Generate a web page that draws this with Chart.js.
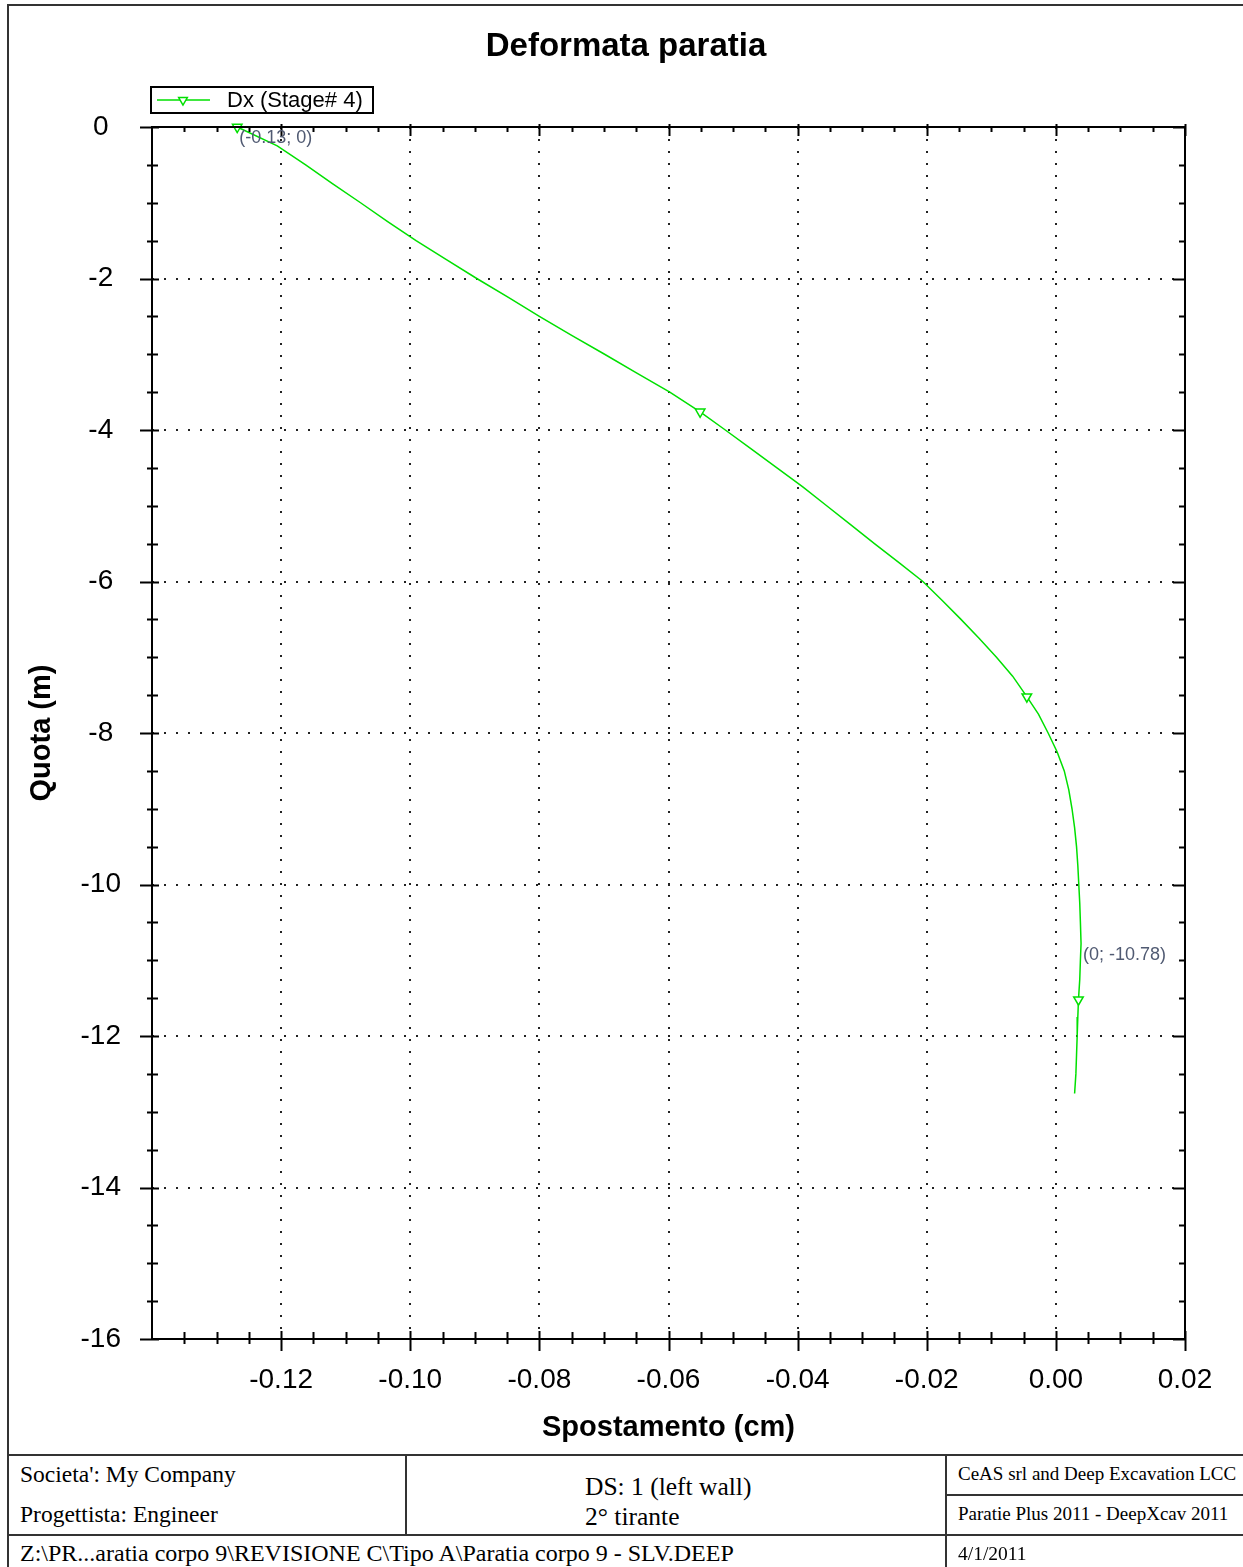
<!DOCTYPE html>
<html>
<head>
<meta charset="utf-8">
<script src="https://cdn.jsdelivr.net/npm/chart.js@4/dist/chart.umd.min.js"></script>
<style>
  html, body { margin:0; padding:0; background:#fff; }
  #page { position:relative; width:1243px; height:1567px; overflow:hidden; background:#fff; }
  #wrap { position:absolute; left:0; top:0; width:1243px; height:1455px; }
  .ln { position:absolute; background:#333; }
  .ft { position:absolute; font-family:"Liberation Serif","Times New Roman",serif; color:#000; white-space:nowrap; line-height:1; }
</style>
</head>
<body>
<div id="page">
  <div id="wrap"><canvas id="c" width="1243" height="1455"></canvas></div>
  <!-- outer frame -->
  <div class="ln" style="left:8px;top:4px;width:1235px;height:2px;"></div>
  <div class="ln" style="left:7px;top:4px;width:2px;height:1563px;"></div>
  <!-- footer table -->
  <div class="ln" style="left:8px;top:1454px;width:1235px;height:2px;"></div>
  <div class="ln" style="left:8px;top:1534px;width:1235px;height:2px;"></div>
  <div class="ln" style="left:946px;top:1494px;width:297px;height:2px;"></div>
  <div class="ln" style="left:405px;top:1455px;width:2px;height:80px;"></div>
  <div class="ln" style="left:945px;top:1455px;width:2px;height:112px;"></div>
  <div class="ft" style="left:20px;top:1463px;font-size:23.5px;">Societa': My Company</div>
  <div class="ft" style="left:20px;top:1503px;font-size:23.5px;">Progettista: Engineer</div>
  <div class="ft" style="left:585px;top:1474px;font-size:25.5px;">DS: 1 (left wall)</div>
  <div class="ft" style="left:585px;top:1504px;font-size:25.5px;">2° tirante</div>
  <div class="ft" style="left:958px;top:1464px;font-size:19px;">CeAS srl and Deep Excavation LCC</div>
  <div class="ft" style="left:958px;top:1504px;font-size:19px;">Paratie Plus 2011 - DeepXcav 2011</div>
  <div class="ft" style="left:20px;top:1541px;font-size:24px;">Z:\PR...aratia corpo 9\REVISIONE C\Tipo A\Paratia corpo 9 - SLV.DEEP</div>
  <div class="ft" style="left:958px;top:1544px;font-size:19.5px;">4/1/2011</div>
</div>
<script>
// ---- data (depth in m, horizontal displacement in cm) ----
const seriesLabel = 'Dx (Stage# 4)';
const depths = [0, -0.25, -0.5, -0.75, -1.0, -1.25, -1.5, -1.75, -2.0, -2.25, -2.5, -2.75, -3.0, -3.25, -3.5, -3.76,
  -4.0, -4.25, -4.5, -4.75, -5.0, -5.25, -5.5, -5.75, -6.0, -6.25, -6.5, -6.75, -7.0, -7.25, -7.52, -7.75,
  -8.0, -8.25, -8.5, -8.75, -9.0, -9.25, -9.5, -9.75, -10.0, -10.25, -10.5, -10.78, -11.0, -11.25, -11.52, -11.75,
  -12.0, -12.25, -12.5, -12.76];
const dx = [-0.1268, -0.1206, -0.1162, -0.1120, -0.1077, -0.1035, -0.0991, -0.0944, -0.0897, -0.0848, -0.0800, -0.0750, -0.0699, -0.0649, -0.0598, -0.0551,
  -0.0512, -0.0472, -0.0432, -0.0392, -0.0355, -0.0318, -0.0281, -0.0243, -0.0206, -0.0176, -0.0147, -0.0119, -0.0092, -0.0067, -0.0045, -0.0027,
  -0.0012, 0.0002, 0.0013, 0.0020, 0.0025, 0.0029, 0.0032, 0.0034, 0.00355, 0.0037, 0.0038, 0.0039, 0.0038, 0.0037, 0.0035, 0.0034,
  0.0033, 0.0032, 0.0031, 0.0029];
const markerDepths = [0, -3.76, -7.52, -11.52];
const xTicks = { min: -0.14, max: 0.02, step: 0.02, minor: 0.005 };
const yTicks = { min: -16, max: 0, step: 2, minor: 0.5 };

const GREEN = '#00e000';
const points = depths.map((d, i) => ({ x: dx[i], y: d }));
const isMarker = ctx => ctx.raw && markerDepths.includes(ctx.raw.y);

const framePlugin = {
  id: 'frame',
  afterLayout(chart) {
    // centre the title on the plotting frame as in the original
    const t = chart.titleBlock;
    if (t) { t.left = 67; t.right = chart.chartArea.right; t.width = t.right - t.left; }
  },
  afterDraw(chart) {
    const { ctx, chartArea: a, scales: { x, y } } = chart;
    ctx.save();
    ctx.strokeStyle = '#000';
    ctx.lineWidth = 2;
    ctx.strokeRect(a.left, a.top, a.right - a.left, a.bottom - a.top);
    ctx.beginPath();
    // x ticks
    const nx = Math.round((xTicks.max - xTicks.min) / xTicks.minor);
    for (let i = 1; i <= nx; i++) {
      const v = xTicks.min + i * xTicks.minor;
      const px = Math.round(x.getPixelForValue(v)) + 0.5;
      if (i % 4 === 0) {
        ctx.moveTo(px, a.bottom - 8); ctx.lineTo(px, a.bottom + 12);
        ctx.moveTo(px, a.top - 3); ctx.lineTo(px, a.top + 9);
      } else {
        ctx.moveTo(px, a.bottom - 7); ctx.lineTo(px, a.bottom + 5);
        ctx.moveTo(px, a.top); ctx.lineTo(px, a.top + 5);
      }
    }
    // y ticks
    const ny = Math.round((yTicks.max - yTicks.min) / yTicks.minor);
    for (let i = 0; i <= ny; i++) {
      const v = yTicks.min + i * yTicks.minor;
      const py = Math.round(y.getPixelForValue(v)) + 0.5;
      if (i % 4 === 0) {
        ctx.moveTo(a.left - 12, py); ctx.lineTo(a.left + 7, py);
        ctx.moveTo(a.right - 12, py); ctx.lineTo(a.right, py);
      } else {
        ctx.moveTo(a.left - 5, py); ctx.lineTo(a.left + 6, py);
        ctx.moveTo(a.right - 6, py); ctx.lineTo(a.right, py);
      }
    }
    ctx.stroke();

    // point annotations: min and max displacement
    const data = chart.data.datasets[0].data;
    let iMin = 0, iMax = 0;
    data.forEach((p, i) => { if (p.x < data[iMin].x) iMin = i; if (p.x > data[iMax].x) iMax = i; });
    ctx.font = '18px "Liberation Sans", Arial, sans-serif';
    ctx.fillStyle = '#505a72';
    ctx.textAlign = 'left';
    ctx.textBaseline = 'middle';
    [iMin, iMax].forEach(i => {
      const p = data[i];
      const txt = '(' + Number(p.x.toFixed(2)) + '; ' + Number(p.y.toFixed(2)) + ')';
      ctx.fillText(txt, x.getPixelForValue(p.x) + 2, y.getPixelForValue(p.y) + 11);
    });

    // legend box
    const L = { x: 151, y: 87, w: 222, h: 26 };
    ctx.fillStyle = '#fff';
    ctx.fillRect(L.x, L.y, L.w, L.h);
    ctx.strokeStyle = '#000';
    ctx.lineWidth = 2;
    ctx.strokeRect(L.x, L.y, L.w, L.h);
    const ly = L.y + L.h / 2;
    ctx.strokeStyle = GREEN;
    ctx.lineWidth = 1.5;
    ctx.beginPath(); ctx.moveTo(157, ly); ctx.lineTo(210, ly); ctx.stroke();
    ctx.fillStyle = '#fff';
    Chart.helpers.drawPoint(ctx, { pointStyle: 'triangle', rotation: 180, radius: 5, borderWidth: 1.5 }, 183, ly);
    ctx.fillStyle = '#000';
    ctx.font = '22px "Liberation Sans", Arial, sans-serif';
    ctx.textBaseline = 'middle';
    ctx.fillText(chart.data.datasets[0].label, 227, ly + 1);
    ctx.restore();
  }
};

new Chart(document.getElementById('c'), {
  type: 'scatter',
  data: {
    datasets: [{
      label: seriesLabel,
      data: points,
      showLine: true,
      borderColor: GREEN,
      borderWidth: 1.5,
      tension: 0,
      pointStyle: 'triangle',
      rotation: 180,
      pointRadius: ctx => isMarker(ctx) ? 5.5 : 0,
      pointHoverRadius: 0,
      pointBackgroundColor: '#fff',
      pointBorderColor: GREEN,
      pointBorderWidth: 1.5,
      clip: 10
    }]
  },
  options: {
    responsive: false,
    animation: false,
    devicePixelRatio: 1,
    layout: { padding: { left: 0, right: 58, top: 0, bottom: 0 } },
    plugins: {
      legend: { display: false },
      tooltip: { enabled: false },
      title: {
        display: true,
        text: 'Deformata paratia',
        color: '#000',
        font: { family: '"Liberation Sans", Arial, sans-serif', size: 33, weight: 'bold', lineHeight: 1.2 },
        padding: { top: 27, bottom: 60.4 }
      }
    },
    scales: {
      x: {
        type: 'linear',
        min: xTicks.min, max: xTicks.max,
        afterFit: s => { s.height = 116; },
        ticks: {
          stepSize: xTicks.step,
          color: '#000',
          padding: 24,
          maxRotation: 0,
          autoSkip: false,
          font: { family: '"Liberation Sans", Arial, sans-serif', size: 28 },
          callback: v => Math.abs(v - xTicks.min) < 1e-9 ? '' : (Math.abs(v) < 1e-9 ? '0.00' : Number(v).toFixed(2))
        },
        grid: { color: '#222', lineWidth: 2, drawTicks: false },
        border: { display: false, dash: [2, 10] },
        title: {
          display: true, text: 'Spostamento (cm)', color: '#000',
          font: { family: '"Liberation Sans", Arial, sans-serif', size: 29, weight: 'bold', lineHeight: 1.2 },
          padding: { top: 0, bottom: 10 }
        }
      },
      y: {
        type: 'linear',
        min: yTicks.min, max: yTicks.max,
        afterFit: s => { s.width = 152; },
        ticks: {
          stepSize: yTicks.step,
          color: '#000',
          padding: 31,
          crossAlign: 'center',
          font: { family: '"Liberation Sans", Arial, sans-serif', size: 28 },
          callback: v => String(Math.round(v))
        },
        grid: { color: '#222', lineWidth: 2, drawTicks: false },
        border: { display: false, dash: [2, 10] },
        title: {
          display: true, text: 'Quota (m)', color: '#000',
          font: { family: '"Liberation Sans", Arial, sans-serif', size: 29, weight: 'bold', lineHeight: 1.2 },
          padding: { top: 25, bottom: 0 }
        }
      }
    }
  },
  plugins: [framePlugin]
});
</script>
</body>
</html>
